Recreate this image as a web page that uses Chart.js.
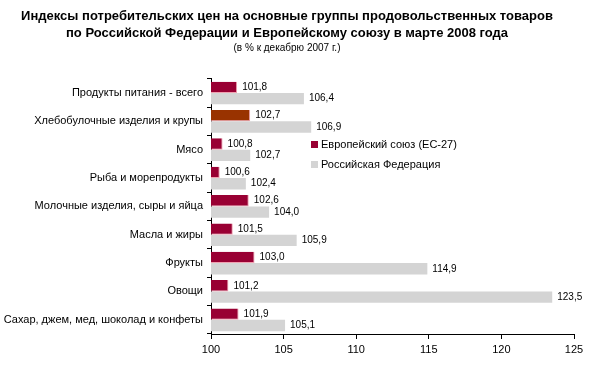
<!DOCTYPE html>
<html>
<head>
<meta charset="utf-8">
<script src="https://cdn.jsdelivr.net/npm/chart.js@4"></script>
<style>
  html, body { margin: 0; padding: 0; background: #fff; }
  #wrap { width: 590px; height: 365px; }
</style>
</head>
<body>
<div id="wrap"><canvas id="chart-cpi"></canvas></div>
<script>
const categorias = [
  'Продукты питания - всего',
  'Хлебобулочные изделия и крупы',
  'Мясо',
  'Рыба и морепродукты',
  'Молочные изделия, сыры и яйца',
  'Масла и жиры',
  'Фрукты',
  'Овощи',
  'Сахар, джем, мед, шоколад и конфеты'
]
const valoresEU = [101.8, 102.7, 100.8, 100.6, 102.6, 101.5, 103.0, 101.2, 101.9]
const valoresRF = [106.4, 106.9, 102.7, 102.4, 104.0, 105.9, 114.9, 123.5, 105.1]
const coloresEU = ['#990033', '#993300', '#990033', '#990033', '#990033', '#990033', '#990033', '#990033', '#990033']
const ticksX = [100, 105, 110, 115, 120, 125]

const fuente = '"Liberation Sans", Arial, sans-serif'

const etiquetasPlugin = {
  id: 'etiquetas',
  afterDatasetsDraw(chart) {
    const ctx = chart.ctx
    ctx.save()
    ctx.font = '10px ' + fuente
    ctx.fillStyle = '#000'
    ctx.textBaseline = 'middle'
    ctx.textAlign = 'left'
    chart.data.datasets.forEach((ds, i) => {
      chart.getDatasetMeta(i).data.forEach((bar, j) => {
        const txt = ds.data[j].toFixed(1).replace('.', ',')
        ctx.fillText(txt, bar.x + 5, bar.y)
      })
    })
    ctx.restore()
  }
}

const leyendaPlugin = {
  id: 'leyendaInterna',
  afterDraw(chart) {
    const ctx = chart.ctx
    const x = 311
    const filas = [
      { label: chart.data.datasets[0].label, color: '#990033', y: 145 },
      { label: chart.data.datasets[1].label, color: '#D4D4D4', y: 165 }
    ]
    ctx.save()
    ctx.font = '11px ' + fuente
    ctx.textBaseline = 'middle'
    filas.forEach(f => {
      ctx.fillStyle = f.color
      ctx.fillRect(x, f.y - 4, 7, 7)
      ctx.fillStyle = '#000'
      ctx.fillText(f.label, x + 10, f.y)
    })
    ctx.restore()
  }
}

const ctx = document.getElementById('chart-cpi').getContext('2d')

new Chart(ctx, {
  type: 'bar',
  data: {
    labels: categorias,
    datasets: [
      {
        label: 'Европейский союз (ЕС-27)',
        data: valoresEU,
        backgroundColor: coloresEU,
        borderColor: '#F0A0B0',
        borderWidth: { right: 1, bottom: 1 },
        borderSkipped: 'start',
        categoryPercentage: 0.8,
        barPercentage: 1
      },
      {
        label: 'Российская Федерация',
        data: valoresRF,
        backgroundColor: '#D4D4D4',
        categoryPercentage: 0.8,
        barPercentage: 1
      }
    ]
  },
  options: {
    indexAxis: 'y',
    responsive: true,
    maintainAspectRatio: false,
    animation: false,
    layout: { padding: { left: 0, right: 16, top: 0, bottom: 0 } },
    plugins: {
      legend: { display: false },
      tooltip: { enabled: false },
      title: {
        display: true,
        text: ['Индексы потребительских цен на основные группы продовольственных товаров',
               'по Российской Федерации и Европейскому союзу в марте 2008 года'],
        color: '#000',
        font: { family: fuente, size: 13, weight: 'bold', lineHeight: 1.3 },
        padding: { top: 8, bottom: 0 }
      },
      subtitle: {
        display: true,
        text: '(в % к декабрю 2007 г.)',
        color: '#000',
        font: { family: fuente, size: 10, lineHeight: 1.2 },
        padding: { top: 0, bottom: 25 }
      }
    },
    scales: {
      x: {
        min: 100,
        max: 125,
        afterBuildTicks: (scale) => { scale.ticks = ticksX.map(v => ({ value: v })) },
        afterFit: (scale) => { scale.height = 31 },
        border: { color: '#000', width: 1 },
        grid: { drawOnChartArea: false, tickLength: 5, color: '#000' },
        ticks: { color: '#000', font: { family: fuente, size: 11 }, padding: 4 }
      },
      y: {
        afterFit: (scale) => { scale.width = 211 },
        border: { color: '#000', width: 1 },
        grid: { drawOnChartArea: false, offset: true, tickLength: 4, color: '#000' },
        ticks: { color: '#000', font: { family: fuente, size: 11 }, padding: 4 }
      }
    }
  },
  plugins: [etiquetasPlugin, leyendaPlugin]
})
</script>
</body>
</html>
